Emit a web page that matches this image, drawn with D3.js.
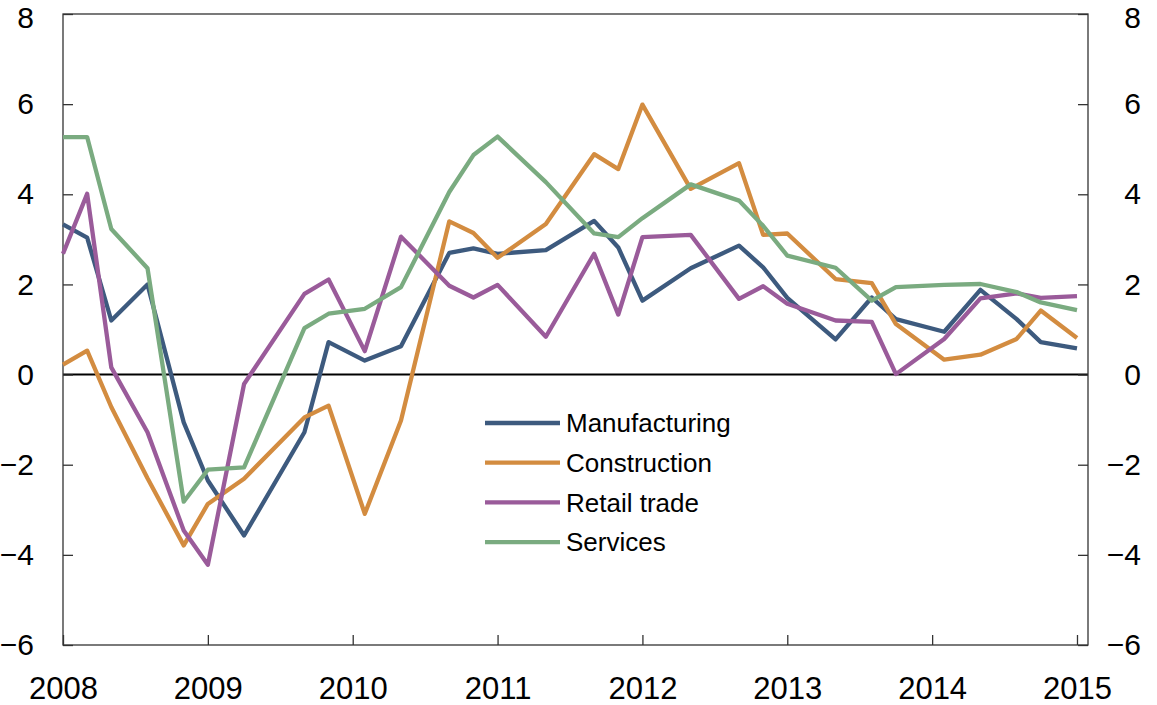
<!DOCTYPE html>
<html>
<head>
<meta charset="utf-8">
<script src="https://cdn.jsdelivr.net/npm/d3@7"></script>
<style>
  html, body { margin: 0; padding: 0; background: #fff; }
  svg { display: block; font-family: "Liberation Sans", Arial, Helvetica, sans-serif; }
</style>
</head>
<body>
<svg id="chart" width="1157" height="705"></svg>
<script>
// survey months (year-month)
const dates = [
  '2008-01', '2008-03', '2008-05', '2008-08', '2008-11',
  '2009-01', '2009-04', '2009-09', '2009-11',
  '2010-02', '2010-05', '2010-09', '2010-11',
  '2011-01', '2011-05', '2011-09', '2011-11',
  '2012-01', '2012-05', '2012-09', '2012-11',
  '2013-01', '2013-05', '2013-08', '2013-10',
  '2014-02', '2014-05', '2014-08', '2014-10',
  '2015-01'
];

const manufacturing = [
  3.33, 3.04, 1.20, 2.00, -1.06, -2.35, -3.57, -1.28, 0.72,
  0.31, 0.63, 2.70, 2.80, 2.68, 2.76, 3.41, 2.82,
  1.64, 2.36, 2.86, 2.38, 1.70, 0.78, 1.71, 1.23,
  0.95, 1.88, 1.23, 0.72, 0.58
];
const construction = [
  0.22, 0.53, -0.72, -2.30, -3.79, -2.87, -2.31, -0.95, -0.69,
  -3.09, -1.02, 3.40, 3.14, 2.59, 3.34, 4.89, 4.56,
  5.99, 4.12, 4.69, 3.10, 3.13, 2.12, 2.03, 1.12,
  0.33, 0.44, 0.79, 1.42, 0.81
];
const retailTrade = [
  2.68, 4.01, 0.16, -1.28, -3.46, -4.22, -0.21, 1.79, 2.11,
  0.52, 3.06, 1.97, 1.71, 1.99, 0.84, 2.68, 1.33,
  3.05, 3.10, 1.68, 1.96, 1.57, 1.20, 1.17, 0.01,
  0.79, 1.69, 1.80, 1.70, 1.74
];
const services = [
  5.27, 5.27, 3.23, 2.36, -2.82, -2.11, -2.06, 1.03, 1.35,
  1.46, 1.94, 4.05, 4.87, 5.28, 4.27, 3.13, 3.05,
  3.47, 4.22, 3.86, 3.30, 2.64, 2.37, 1.64, 1.94,
  1.99, 2.01, 1.83, 1.60, 1.43
];

const seriesNames = ['Manufacturing', 'Construction', 'Retail trade', 'Services'];
const seriesValues = [manufacturing, construction, retailTrade, services];
const seriesColors = ['#3d5a7e', '#d38c40', '#9a5b9a', '#7aab80'];

const yearTicks = [2008, 2009, 2010, 2011, 2012, 2013, 2014, 2015];
const valueTicks = [-6, -4, -2, 0, 2, 4, 6, 8];

// frame of the plot
const plot = { left: 63, right: 1088, top: 14, bottom: 645 };

const toYear = s => {
  const [yr, m] = s.split('-').map(Number);
  return yr + (m - 1) / 12;
};

const x = d3.scaleLinear().domain([2008, 2015.076]).range([plot.left, plot.right]);
const y = d3.scaleLinear().domain([-6, 8]).range([plot.bottom, plot.top]);

const svg = d3.select('#chart');

// zero line
svg.append('line')
  .attr('x1', plot.left).attr('x2', plot.right)
  .attr('y1', y(0)).attr('y2', y(0))
  .attr('stroke', '#000')
  .attr('stroke-width', 2);

// axes with inward ticks
const xAxis = svg.append('g')
  .attr('transform', `translate(0,${plot.bottom})`)
  .call(d3.axisBottom(x).tickValues(yearTicks).tickFormat(d3.format('d'))
    .tickSizeInner(-10).tickSizeOuter(0).tickPadding(32));

const yLeft = svg.append('g')
  .attr('transform', `translate(${plot.left},0)`)
  .call(d3.axisLeft(y).tickValues(valueTicks).tickFormat(d3.format('d'))
    .tickSizeInner(-10).tickSizeOuter(0).tickPadding(29));

const yRight = svg.append('g')
  .attr('transform', `translate(${plot.right},0)`)
  .call(d3.axisRight(y).tickValues(valueTicks).tickFormat(d3.format('d'))
    .tickSizeInner(-10).tickSizeOuter(0));

yRight.selectAll('text')
  .attr('x', 53)
  .attr('text-anchor', 'end');

[xAxis, yLeft, yRight].forEach(g => {
  g.select('.domain').remove();
  g.selectAll('line').attr('stroke', '#333').attr('stroke-width', 1.3);
  g.selectAll('text')
    .attr('fill', '#000')
    .style('font-size', '31px');
});
[yLeft, yRight].forEach(g => {
  g.selectAll('text')
    .style('font-size', '30px')
    // keep the top label inside the page
    .attr('dy', d => d === 8 ? '0.45em' : '0.32em');
});

// plot frame
svg.append('rect')
  .attr('x', plot.left).attr('y', plot.top)
  .attr('width', plot.right - plot.left).attr('height', plot.bottom - plot.top)
  .attr('fill', 'none')
  .attr('stroke', '#333')
  .attr('stroke-width', 1.3);

// lines
const line = d3.line()
  .x((d, i) => x(toYear(dates[i])))
  .y(d => y(d));

seriesValues.forEach((vals, k) => {
  svg.append('path')
    .datum(vals)
    .attr('fill', 'none')
    .attr('stroke', seriesColors[k])
    .attr('stroke-width', 4.3)
    .attr('stroke-linejoin', 'round')
    .attr('d', line);
});

// legend
const legend = svg.append('g')
  .attr('transform', 'translate(485,423)');

seriesNames.forEach((name, k) => {
  const row = legend.append('g')
    .attr('transform', `translate(0,${k * 39.7})`);
  row.append('line')
    .attr('x1', 0).attr('x2', 75)
    .attr('stroke', seriesColors[k])
    .attr('stroke-width', 4.3);
  row.append('text')
    .attr('x', 81)
    .attr('dy', '0.35em')
    .style('font-size', '26px')
    .attr('fill', '#000')
    .text(name);
});
</script>
</body>
</html>
